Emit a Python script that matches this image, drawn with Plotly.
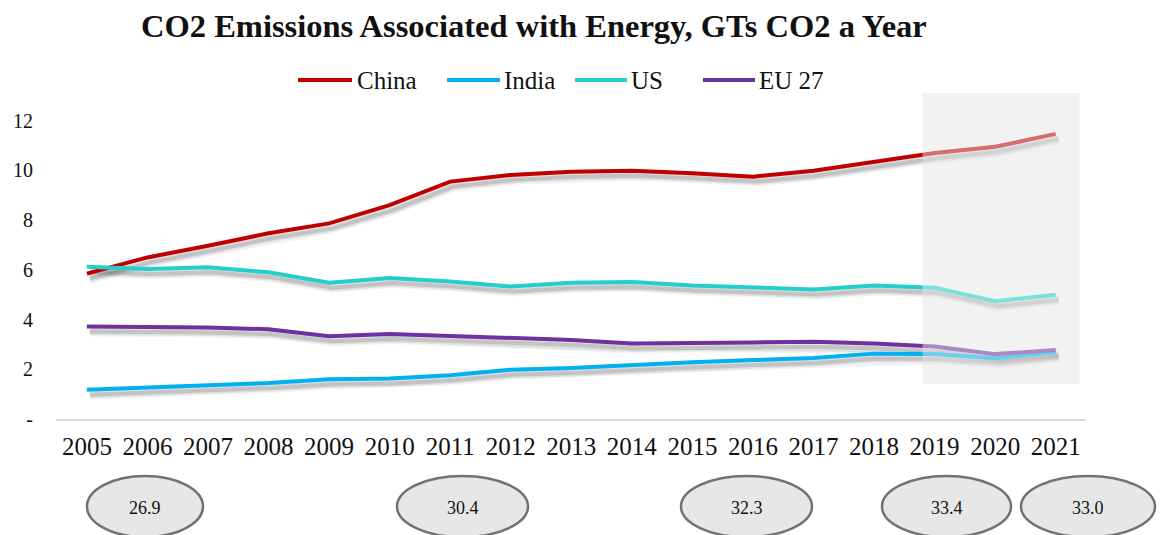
import plotly.graph_objects as go

# Energy-related CO2 emissions, Gt CO2 per year
years = list(range(2005, 2022))
china = [5.85, 6.5, 6.97, 7.47, 7.87, 8.6, 9.55, 9.82, 9.95, 9.99, 9.89, 9.75, 9.99, 10.36, 10.7, 10.95, 11.47]
india = [1.18, 1.26, 1.33, 1.45, 1.6, 1.63, 1.76, 1.98, 2.05, 2.18, 2.28, 2.37, 2.45, 2.63, 2.61, 2.44, 2.68]
us = [6.12, 6.03, 6.1, 5.9, 5.48, 5.67, 5.53, 5.33, 5.48, 5.51, 5.37, 5.27, 5.21, 5.37, 5.28, 4.74, 5.0]
eu27 = [3.72, 3.72, 3.68, 3.61, 3.33, 3.42, 3.34, 3.26, 3.18, 3.04, 3.08, 3.08, 3.11, 3.04, 2.92, 2.61, 2.78]

series_names = ["China", "India", "US", "EU 27"]
series_values = [china, india, us, eu27]
series_colors = ["#c00000", "#00b0f0", "#22cfcb", "#7030a0"]

# World totals shown in the bubbles under the axis
world_totals = [26.9, 30.4, 32.3, 33.4, 33.0]

y_ticks = [0, 2, 4, 6, 8, 10, 12]
y_ticktext = ["-", "2", "4", "6", "8", "10", "12"]

# Highlighted recent period
recent_x = (2018.8, 2021.39)
recent_y = (1.41, 13.1)

W, H = 1163, 535
L, R, T, B = 56, 77, 71, 116
PW, PH = W - L - R, H - T - B


def px_x(px):
    return (px - L) / PW


def px_y(py):
    return (H - B - py) / PH


SERIF = "Liberation Serif, Times New Roman, serif"

fig = go.Figure()

# soft drop shadows under each line
for vals in series_values:
    for width, alpha in ((10, 0.05), (7, 0.08), (4, 0.12)):
        fig.add_trace(go.Scatter(
            x=[v + 0.05 for v in years], y=[v - 0.2 for v in vals],
            mode="lines", line=dict(color=f"rgba(0,0,0,{alpha})", width=width),
            hoverinfo="skip", showlegend=False))

for name, vals, color in zip(series_names, series_values, series_colors):
    fig.add_trace(go.Scatter(
        x=years, y=vals, name=name, mode="lines",
        line=dict(color=color, width=4), showlegend=False))

shapes = []
# grey band behind, and a translucent veil over the lines of the recent period
shapes.append(dict(type="rect", xref="x", yref="y", x0=recent_x[0], x1=recent_x[1],
                   y0=recent_y[0], y1=recent_y[1], fillcolor="#f2f2f2",
                   line=dict(width=0), layer="below"))
shapes.append(dict(type="rect", xref="x", yref="y", x0=recent_x[0], x1=recent_x[1],
                   y0=recent_y[0], y1=recent_y[1], fillcolor="rgba(242,242,242,0.45)",
                   line=dict(width=0), layer="above"))

annotations = []

# legend drawn as long line swatches with labels
legend_lines = [(298, 352), (447, 500), (575, 627), (703, 755)]
legend_text_x = [355, 502, 629, 757]
legend_y = 80
for name, color, (a, b), tx in zip(series_names, series_colors, legend_lines, legend_text_x):
    shapes.append(dict(type="line", xref="paper", yref="paper",
                       x0=px_x(a), x1=px_x(b), y0=px_y(legend_y), y1=px_y(legend_y),
                       line=dict(color=color, width=4)))
    annotations.append(dict(xref="paper", yref="paper", x=px_x(tx), y=px_y(legend_y),
                            text=name, showarrow=False, xanchor="left", yanchor="middle",
                            font=dict(family=SERIF, size=25, color="#111111")))

# bubbles with world totals
bubble_boxes = [(87, 203), (397, 528), (681, 812), (882, 1011), (1021, 1155)]
bubble_top, bubble_bottom = 476, 537
for total, (a, b) in zip(world_totals, bubble_boxes):
    shapes.append(dict(type="circle", xref="paper", yref="paper",
                       x0=px_x(a), x1=px_x(b), y0=px_y(bubble_bottom), y1=px_y(bubble_top),
                       fillcolor="#e7e7e7", line=dict(color="#727272", width=2.5)))
    annotations.append(dict(xref="paper", yref="paper", x=px_x((a + b) / 2), y=px_y(508),
                            text=f"{total:.1f}", showarrow=False, xanchor="center",
                            yanchor="middle", font=dict(family=SERIF, size=18, color="#111111")))

# title
annotations.append(dict(xref="paper", yref="paper", x=px_x(534), y=px_y(26),
                        text="<b>CO2 Emissions Associated with Energy, GTs CO2 a Year</b>",
                        showarrow=False, xanchor="center", yanchor="middle",
                        font=dict(family=SERIF, size=32.5, color="#111111")))

fig.update_layout(
    width=W, height=H,
    margin=dict(l=L, r=R, t=T, b=B, pad=0),
    paper_bgcolor="white", plot_bgcolor="white",
    shapes=shapes, annotations=annotations,
    xaxis=dict(range=[2004.49, 2021.5], tickvals=years, ticktext=[str(y) for y in years],
               showgrid=False, zeroline=False, showline=True, linecolor="#d9d9d9",
               linewidth=1.5, ticks="", ticklabelstandoff=4,
               tickfont=dict(family=SERIF, size=25, color="#111111")),
    yaxis=dict(range=[0, 14], tickvals=y_ticks, ticktext=y_ticktext,
               showgrid=False, zeroline=False, showline=False, ticks="",
               ticklabelstandoff=22,
               tickfont=dict(family=SERIF, size=20, color="#111111")),
    showlegend=False,
)

fig.write_html("out.html")
